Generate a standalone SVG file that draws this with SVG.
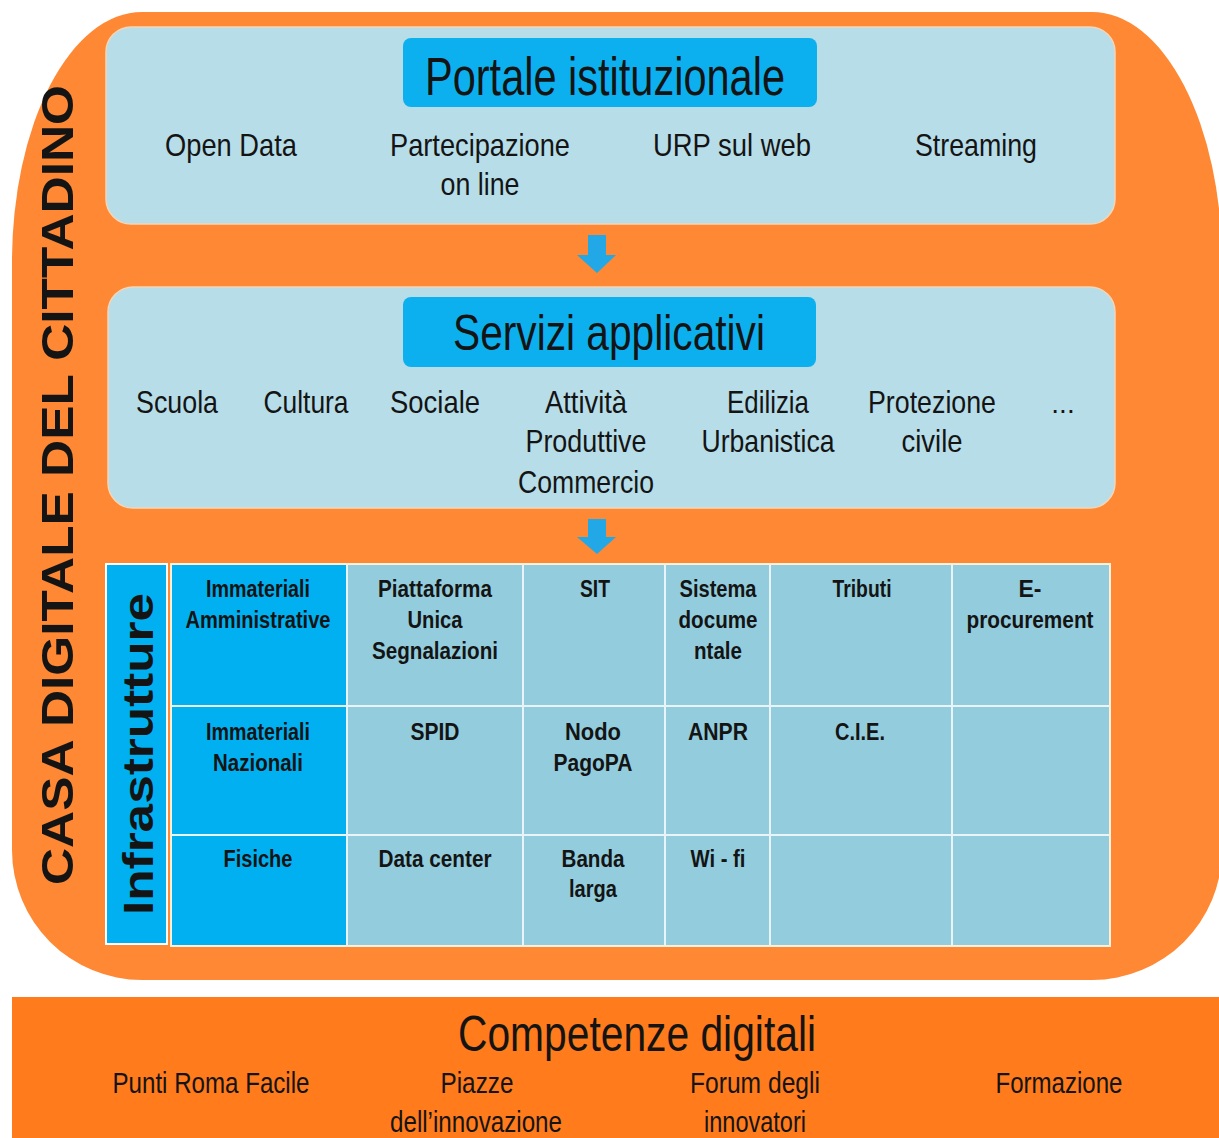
<svg xmlns="http://www.w3.org/2000/svg" width="1219" height="1138" viewBox="0 0 1219 1138">
<style>
.t{font-family:"Liberation Sans",Arial,sans-serif;fill:#141414;text-anchor:middle}
.b{font-weight:bold}
.p{font-size:32px}
.c{font-size:23px;font-weight:bold}
.s{font-size:30px}
.panel{fill:#b7dde8;stroke:#f3d6b8;stroke-width:1.5}
.title{fill:#0db0ee}
.grid{stroke:#e8f4f8;stroke-width:2}
.arrow{fill:#22a8e6}
</style>
<rect width="1219" height="1138" fill="#ffffff"/>
<g id="casa-digitale">
<path d="M142,12 H1092 A130 250 0 0 1 1222 262 V850 A130 130 0 0 1 1092 980 H142 A130 130 0 0 1 12 850 V262 A130 250 0 0 1 142 12 Z" fill="#fe8833"/>
<text class="t b" font-size="45" transform="translate(73,485) rotate(-90)" textLength="800" lengthAdjust="spacingAndGlyphs">CASA DIGITALE DEL CITTADINO</text>
</g>
<g id="portale">
<rect class="panel" x="106" y="27" width="1009" height="197" rx="25"/>
<rect class="title" x="403" y="38" width="414" height="69" rx="8"/>
<text class="t" font-size="54" x="605" y="95" textLength="360" lengthAdjust="spacingAndGlyphs">Portale istituzionale</text>
<text class="t p" x="231" y="156" textLength="132" lengthAdjust="spacingAndGlyphs">Open Data</text>
<text class="t p" x="480" y="156" textLength="180" lengthAdjust="spacingAndGlyphs">Partecipazione</text>
<text class="t p" x="480" y="195" textLength="79" lengthAdjust="spacingAndGlyphs">on line</text>
<text class="t p" x="732" y="156" textLength="158" lengthAdjust="spacingAndGlyphs">URP sul web</text>
<text class="t p" x="976" y="156" textLength="122" lengthAdjust="spacingAndGlyphs">Streaming</text>
</g>
<g id="servizi">
<rect class="panel" x="108" y="287" width="1007" height="221" rx="25"/>
<rect class="title" x="403" y="297" width="413" height="70" rx="8"/>
<text class="t" font-size="50" x="609" y="350" textLength="312" lengthAdjust="spacingAndGlyphs">Servizi applicativi</text>
<text class="t p" x="177" y="413" textLength="82" lengthAdjust="spacingAndGlyphs">Scuola</text>
<text class="t p" x="306" y="413" textLength="85" lengthAdjust="spacingAndGlyphs">Cultura</text>
<text class="t p" x="435" y="413" textLength="90" lengthAdjust="spacingAndGlyphs">Sociale</text>
<text class="t p" x="586" y="413" textLength="82" lengthAdjust="spacingAndGlyphs">Attività</text>
<text class="t p" x="586" y="452" textLength="121" lengthAdjust="spacingAndGlyphs">Produttive</text>
<text class="t p" x="586" y="493" textLength="136" lengthAdjust="spacingAndGlyphs">Commercio</text>
<text class="t p" x="768" y="413" textLength="82" lengthAdjust="spacingAndGlyphs">Edilizia</text>
<text class="t p" x="768" y="452" textLength="133" lengthAdjust="spacingAndGlyphs">Urbanistica</text>
<text class="t p" x="932" y="413" textLength="128" lengthAdjust="spacingAndGlyphs">Protezione</text>
<text class="t p" x="932" y="452" textLength="61" lengthAdjust="spacingAndGlyphs">civile</text>
<text class="t" font-size="28" x="1063" y="413">...</text>
</g>
<g id="infrastrutture">
<rect x="106" y="564" width="61" height="380" fill="#00b0f0" stroke="#ffffff" stroke-width="2"/>
<text class="t b" font-size="42" transform="translate(153,754) rotate(-90)" textLength="322" lengthAdjust="spacingAndGlyphs">Infrastrutture</text>
</g>
<g id="tabella">
<rect x="171" y="564" width="939" height="382" fill="#93cddd" stroke="#fbf1da" stroke-width="2"/>
<rect x="172" y="565" width="175" height="380" fill="#00b0f0"/>
<g class="grid">
<line x1="347" y1="565" x2="347" y2="945"/>
<line x1="523" y1="565" x2="523" y2="945"/>
<line x1="665" y1="565" x2="665" y2="945"/>
<line x1="770" y1="565" x2="770" y2="945"/>
<line x1="952" y1="565" x2="952" y2="945"/>
<line x1="172" y1="706" x2="1109" y2="706"/>
<line x1="172" y1="835" x2="1109" y2="835"/>
</g>
<text class="t c" x="258" y="597" textLength="104" lengthAdjust="spacingAndGlyphs">Immateriali</text>
<text class="t c" x="258" y="628" textLength="145" lengthAdjust="spacingAndGlyphs">Amministrative</text>
<text class="t c" x="435" y="597" textLength="114" lengthAdjust="spacingAndGlyphs">Piattaforma</text>
<text class="t c" x="435" y="628" textLength="55" lengthAdjust="spacingAndGlyphs">Unica</text>
<text class="t c" x="435" y="659" textLength="126" lengthAdjust="spacingAndGlyphs">Segnalazioni</text>
<text class="t c" x="595" y="597" textLength="30" lengthAdjust="spacingAndGlyphs">SIT</text>
<text class="t c" x="718" y="597" textLength="77" lengthAdjust="spacingAndGlyphs">Sistema</text>
<text class="t c" x="718" y="628" textLength="79" lengthAdjust="spacingAndGlyphs">docume</text>
<text class="t c" x="718" y="659" textLength="48" lengthAdjust="spacingAndGlyphs">ntale</text>
<text class="t c" x="862" y="597" textLength="59" lengthAdjust="spacingAndGlyphs">Tributi</text>
<text class="t c" x="1030" y="597" textLength="23" lengthAdjust="spacingAndGlyphs">E-</text>
<text class="t c" x="1030" y="628" textLength="127" lengthAdjust="spacingAndGlyphs">procurement</text>
<text class="t c" x="258" y="740" textLength="104" lengthAdjust="spacingAndGlyphs">Immateriali</text>
<text class="t c" x="258" y="771" textLength="90" lengthAdjust="spacingAndGlyphs">Nazionali</text>
<text class="t c" x="435" y="740" textLength="49" lengthAdjust="spacingAndGlyphs">SPID</text>
<text class="t c" x="593" y="740" textLength="56" lengthAdjust="spacingAndGlyphs">Nodo</text>
<text class="t c" x="593" y="771" textLength="79" lengthAdjust="spacingAndGlyphs">PagoPA</text>
<text class="t c" x="718" y="740" textLength="60" lengthAdjust="spacingAndGlyphs">ANPR</text>
<text class="t c" x="860" y="740" textLength="50" lengthAdjust="spacingAndGlyphs">C.I.E.</text>
<text class="t c" x="258" y="867" textLength="69" lengthAdjust="spacingAndGlyphs">Fisiche</text>
<text class="t c" x="435" y="867" textLength="113" lengthAdjust="spacingAndGlyphs">Data center</text>
<text class="t c" x="593" y="867" textLength="63" lengthAdjust="spacingAndGlyphs">Banda</text>
<text class="t c" x="593" y="897" textLength="48" lengthAdjust="spacingAndGlyphs">larga</text>
<text class="t c" x="718" y="867" textLength="55" lengthAdjust="spacingAndGlyphs">Wi - fi</text>
</g>
<g id="competenze">
<rect x="12" y="997" width="1207" height="141" fill="#ff7b1c"/>
<text class="t" font-size="50" x="637" y="1051" textLength="358" lengthAdjust="spacingAndGlyphs">Competenze digitali</text>
<text class="t s" x="211" y="1093" textLength="197" lengthAdjust="spacingAndGlyphs">Punti Roma Facile</text>
<text class="t s" x="477" y="1093" textLength="73" lengthAdjust="spacingAndGlyphs">Piazze</text>
<text class="t s" x="476" y="1132" textLength="172" lengthAdjust="spacingAndGlyphs">dell’innovazione</text>
<text class="t s" x="755" y="1093" textLength="130" lengthAdjust="spacingAndGlyphs">Forum degli</text>
<text class="t s" x="755" y="1132" textLength="102" lengthAdjust="spacingAndGlyphs">innovatori</text>
<text class="t s" x="1059" y="1093" textLength="127" lengthAdjust="spacingAndGlyphs">Formazione</text>
</g>
<g id="connectors">
<path class="arrow" d="M588,235 H606 V255 H616 L597,273 L577,255 H588 Z"/>
<path class="arrow" d="M588,519 H606 V537 H616 L597,554 L577,537 H588 Z"/>
</g>
</svg>
